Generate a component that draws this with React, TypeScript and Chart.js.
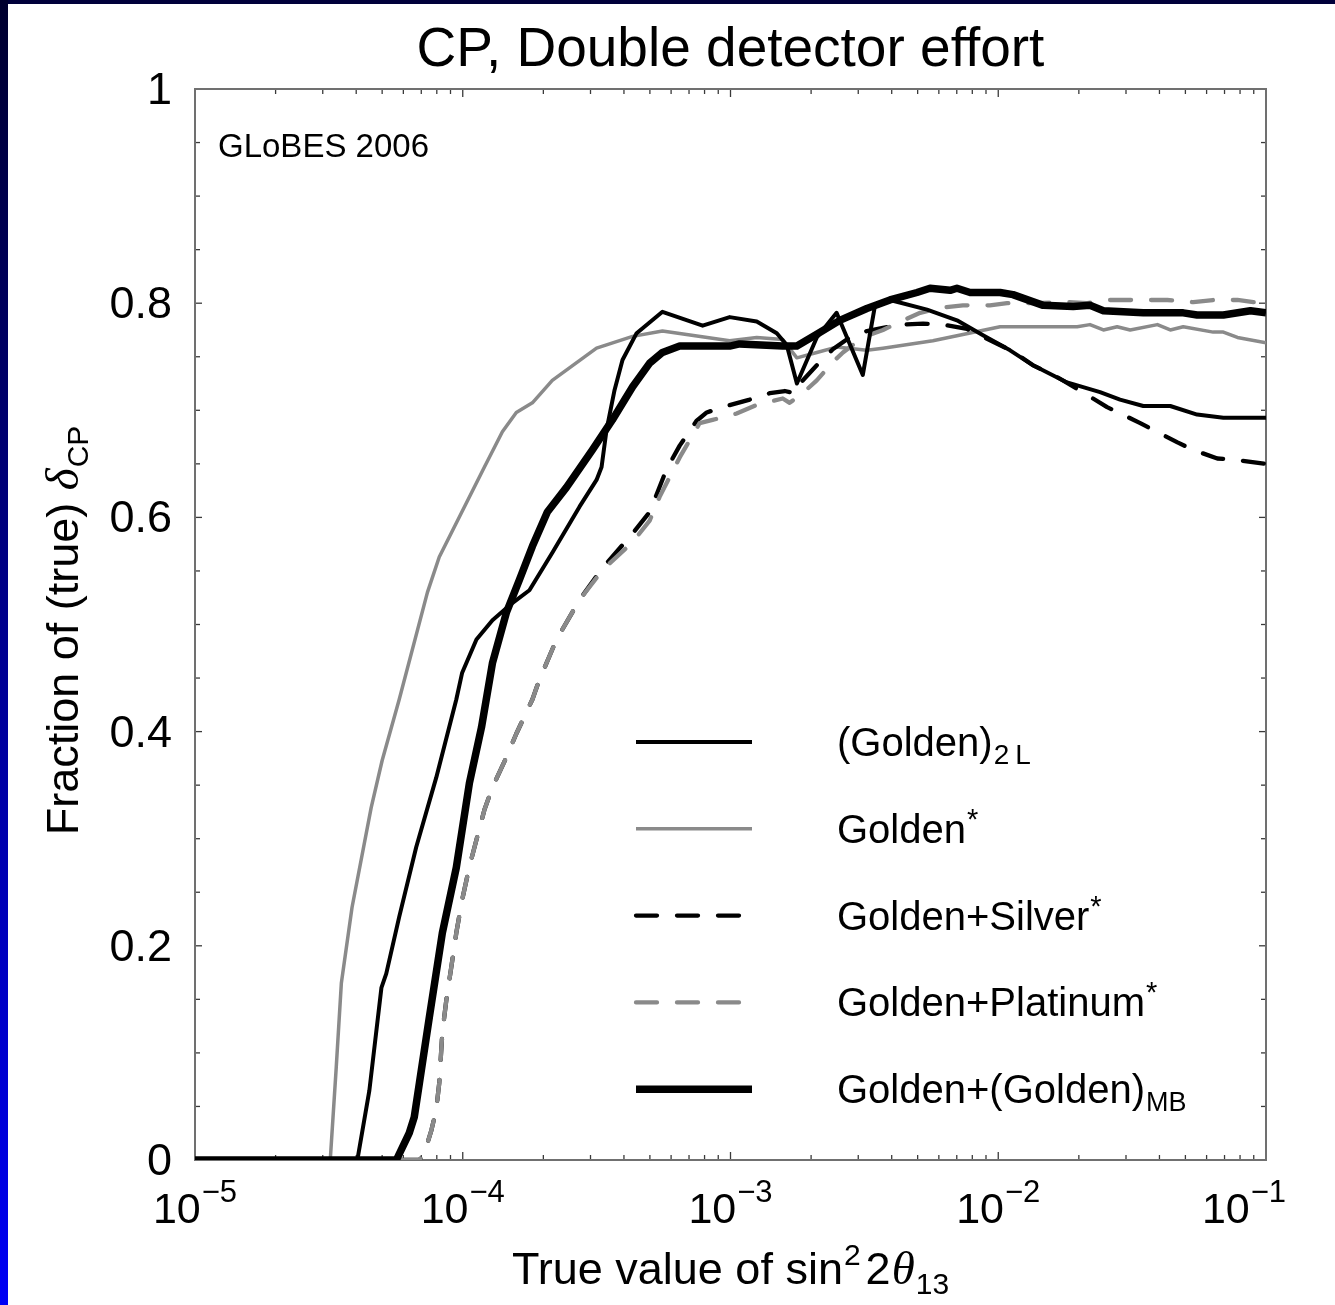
import React, { useEffect, useRef } from 'react';
import { Chart, registerables } from 'chart.js';

Chart.register(...registerables);

// [sin^2 2theta13, fraction of delta_CP] pairs for each setup
const golden2L: [number, number][] = [
  [1e-5, 0], [4.04e-5, 0], [4.48e-5, 0.065], [4.97e-5, 0.161], [5.18e-5, 0.174], [5.79e-5, 0.227],
  [6.7e-5, 0.292], [7.96e-5, 0.357], [9.46e-5, 0.43], [9.95e-5, 0.455], [1.125e-4, 0.486],
  [1.291e-4, 0.504], [1.531e-4, 0.52], [1.774e-4, 0.532], [2.16e-4, 0.567], [2.73e-4, 0.61],
  [3.16e-4, 0.635], [3.3e-4, 0.647], [3.44e-4, 0.681], [3.69e-4, 0.719], [3.95e-4, 0.747],
  [4.46e-4, 0.772], [5.57e-4, 0.792], [7.87e-4, 0.779], [9.93e-4, 0.787], [1.253e-3, 0.783],
  [1.489e-3, 0.772], [1.622e-3, 0.761], [1.77e-3, 0.725], [2.1e-3, 0.768], [2.49e-3, 0.791],
  [3.12e-3, 0.733], [3.46e-3, 0.797], [3.94e-3, 0.803], [5.42e-3, 0.794], [7.01e-3, 0.784],
  [8.77e-3, 0.77], [1.107e-2, 0.756], [1.349e-2, 0.742], [1.807e-2, 0.726], [2.4e-2, 0.717],
  [2.85e-2, 0.71], [3.48e-2, 0.704], [4.39e-2, 0.704], [5.53e-2, 0.696], [6.93e-2, 0.693], [0.1, 0.693],
];

const goldenStar: [number, number][] = [
  [1e-5, 0], [3.2e-5, 0], [3.37e-5, 0.087], [3.52e-5, 0.165], [3.86e-5, 0.236], [4.55e-5, 0.329],
  [5.0e-5, 0.373], [5.79e-5, 0.43], [7.38e-5, 0.53], [8.17e-5, 0.563], [1.205e-4, 0.647],
  [1.406e-4, 0.68], [1.585e-4, 0.698], [1.82e-4, 0.707], [2.16e-4, 0.728], [3.16e-4, 0.758],
  [4.31e-4, 0.769], [5.57e-4, 0.774], [9.93e-4, 0.765], [1.253e-3, 0.768], [1.567e-3, 0.766],
  [1.77e-3, 0.749], [2.1e-3, 0.754], [2.49e-3, 0.759], [3.23e-3, 0.756], [3.71e-3, 0.758],
  [5.7e-3, 0.765], [1.016e-2, 0.778], [1.972e-2, 0.778], [2.2e-2, 0.78], [2.47e-2, 0.775],
  [2.78e-2, 0.778], [3.11e-2, 0.775], [3.93e-2, 0.78], [4.39e-2, 0.775], [4.91e-2, 0.778],
  [6.35e-2, 0.773], [6.93e-2, 0.773], [7.82e-2, 0.768], [0.1, 0.763],
];

const goldenSilver: [number, number][] = [
  [1e-5, 0], [6.89e-5, 0], [7.18e-5, 0.006], [7.64e-5, 0.028], [7.96e-5, 0.047], [8.17e-5, 0.072],
  [8.39e-5, 0.119], [8.69e-5, 0.15], [9.06e-5, 0.18], [9.46e-5, 0.212], [9.95e-5, 0.243],
  [1.059e-4, 0.274], [1.125e-4, 0.299], [1.205e-4, 0.327], [1.291e-4, 0.348], [1.455e-4, 0.376],
  [1.585e-4, 0.398], [1.82e-4, 0.43], [1.93e-4, 0.448], [2.24e-4, 0.486], [2.73e-4, 0.523],
  [3.33e-4, 0.553], [4.31e-4, 0.585], [4.99e-4, 0.605], [5.77e-4, 0.645], [6.46e-4, 0.667],
  [7.46e-4, 0.69], [8.15e-4, 0.698], [9.35e-4, 0.703], [1.18e-3, 0.71], [1.403e-3, 0.716],
  [1.596e-3, 0.718], [1.738e-3, 0.716], [1.816e-3, 0.725], [2.1e-3, 0.742], [2.41e-3, 0.757],
  [2.79e-3, 0.768], [3.23e-3, 0.774], [3.71e-3, 0.777], [4.41e-3, 0.78], [5.24e-3, 0.781],
  [6.22e-3, 0.78], [7.64e-3, 0.776], [9.57e-3, 0.764], [1.135e-2, 0.755], [1.349e-2, 0.742],
  [1.66e-2, 0.731], [1.972e-2, 0.72], [2.55e-2, 0.703], [3.39e-2, 0.688], [4.67e-2, 0.67],
  [5.35e-2, 0.663], [6.58e-2, 0.655], [7.55e-2, 0.654], [0.1, 0.65],
];

const goldenPlatinum: [number, number][] = [
  [1e-5, 0], [6.89e-5, 0], [7.18e-5, 0.006], [7.64e-5, 0.028], [7.96e-5, 0.047], [8.17e-5, 0.072],
  [8.39e-5, 0.119], [8.69e-5, 0.15], [9.06e-5, 0.18], [9.46e-5, 0.212], [9.95e-5, 0.243],
  [1.059e-4, 0.274], [1.125e-4, 0.299], [1.205e-4, 0.327], [1.291e-4, 0.348], [1.455e-4, 0.376],
  [1.585e-4, 0.398], [1.82e-4, 0.43], [1.93e-4, 0.448], [2.24e-4, 0.486], [2.73e-4, 0.523],
  [3.33e-4, 0.551], [4.31e-4, 0.577], [4.99e-4, 0.597], [5.43e-4, 0.619], [6.46e-4, 0.656],
  [7.67e-4, 0.688], [8.57e-4, 0.691], [1.054e-3, 0.697], [1.253e-3, 0.705], [1.567e-3, 0.711],
  [1.663e-3, 0.707], [1.862e-3, 0.716], [2.1e-3, 0.728], [2.41e-3, 0.745], [2.63e-3, 0.754],
  [3.12e-3, 0.768], [3.71e-3, 0.775], [4.41e-3, 0.784], [5.11e-3, 0.791], [6.22e-3, 0.796],
  [7.38e-3, 0.798], [9.31e-3, 0.798], [1.079e-2, 0.8], [1.349e-2, 0.8], [1.807e-2, 0.801],
  [2.15e-2, 0.8], [2.55e-2, 0.803], [3.19e-2, 0.803], [4.28e-2, 0.803], [5.35e-2, 0.801],
  [6.35e-2, 0.803], [7.82e-2, 0.803], [8.97e-2, 0.801], [0.1, 0.802],
];

const goldenMB: [number, number][] = [
  [1e-5, 0], [5.65e-5, 0], [6.31e-5, 0.025], [6.59e-5, 0.04], [6.89e-5, 0.072], [7.5e-5, 0.133],
  [8.39e-5, 0.212], [9.46e-5, 0.273], [1.059e-4, 0.352], [1.175e-4, 0.404], [1.291e-4, 0.464],
  [1.455e-4, 0.511], [1.629e-4, 0.542], [1.82e-4, 0.573], [2.07e-4, 0.605], [2.44e-4, 0.628],
  [3.05e-4, 0.663], [3.62e-4, 0.691], [4.31e-4, 0.722], [4.99e-4, 0.744], [5.57e-4, 0.754],
  [6.46e-4, 0.76], [9.93e-4, 0.76], [1.081e-3, 0.762], [1.567e-3, 0.76], [1.77e-3, 0.76],
  [2.1e-3, 0.771], [2.56e-3, 0.784], [3.23e-3, 0.795], [3.94e-3, 0.803], [4.97e-3, 0.81],
  [5.56e-3, 0.814], [6.61e-3, 0.812], [7.01e-3, 0.814], [7.85e-3, 0.81], [1.016e-2, 0.81],
  [1.135e-2, 0.808], [1.472e-2, 0.798], [1.905e-2, 0.797], [2.2e-2, 0.798], [2.47e-2, 0.793],
  [3.48e-2, 0.791], [4.91e-2, 0.791], [5.53e-2, 0.789], [6.93e-2, 0.789], [8.75e-2, 0.793], [0.1, 0.791],
];

// axis ticks and labels
const xDecades = [1e-5, 1e-4, 1e-3, 1e-2, 1e-1];
const xDecadeExponents = ['\u22125', '\u22124', '\u22123', '\u22122', '\u22121'];
const xMinorMultipliers = [2, 3, 4, 5, 6, 7, 8, 9];
const yMajorTicks = [0, 0.2, 0.4, 0.6, 0.8, 1];
const yMajorLabels = ['0', '0.2', '0.4', '0.6', '0.8', '1'];
const yMinorStep = 0.05;

const SANS = '"Liberation Sans", Arial, Helvetica, sans-serif';
const SERIF = '"Liberation Serif", "Times New Roman", serif';
const GRAY = '#8a8a8a';

interface Seg { t: string; s?: number; dy?: number; it?: boolean; pre?: number }

const legendLabels: Seg[][] = [
  [{ t: '(Golden)' }, { t: '2', s: 28, dy: 8, pre: 1 }, { t: 'L', s: 28, dy: 8, pre: 6 }],
  [{ t: 'Golden' }, { t: '*', s: 29, dy: -14, pre: 1 }],
  [{ t: 'Golden+Silver' }, { t: '*', s: 29, dy: -14, pre: 1 }],
  [{ t: 'Golden+Platinum' }, { t: '*', s: 29, dy: -14, pre: 1 }],
  [{ t: 'Golden+(Golden)' }, { t: 'MB', s: 27, dy: 8, pre: 1 }],
];

function setFont(ctx: CanvasRenderingContext2D, g: Seg, base: number) {
  const size = g.s ?? base;
  ctx.font = g.it ? `italic ${size}px ${SERIF}` : `${size}px ${SANS}`;
}

function drawRich(ctx: CanvasRenderingContext2D, segs: Seg[], x: number, y: number,
  align: 'left' | 'center' | 'right', base: number) {
  let w = 0;
  for (const g of segs) { setFont(ctx, g, base); w += ctx.measureText(g.t).width + (g.pre ?? 0); }
  let cx = align === 'center' ? x - w / 2 : align === 'right' ? x - w : x;
  ctx.textAlign = 'left';
  ctx.textBaseline = 'alphabetic';
  for (const g of segs) {
    setFont(ctx, g, base);
    cx += g.pre ?? 0;
    ctx.fillText(g.t, cx, y + (g.dy ?? 0));
    cx += ctx.measureText(g.t).width;
  }
}

const decorations = {
  id: 'decorations',
  beforeDatasetsDraw(chart: any) {
    const { ctx, chartArea: a, scales } = chart;
    const xs = scales.x, ys = scales.y;
    ctx.save();
    ctx.strokeStyle = '#3a3a3a';
    ctx.lineWidth = 1.3;
    const seg = (x1: number, y1: number, x2: number, y2: number) => {
      ctx.beginPath(); ctx.moveTo(x1, y1); ctx.lineTo(x2, y2); ctx.stroke();
    };
    // x ticks, bottom and top, pointing inward
    xDecades.forEach((d, i) => {
      const px = xs.getPixelForValue(d);
      seg(px, a.bottom, px, a.bottom - 8);
      seg(px, a.top, px, a.top + 8);
      if (i < xDecades.length - 1) {
        for (const m of xMinorMultipliers) {
          const q = xs.getPixelForValue(m * d);
          seg(q, a.bottom, q, a.bottom - 5);
          seg(q, a.top, q, a.top + 5);
        }
      }
    });
    // y ticks, left and right
    for (let k = 0; k <= 20; k++) {
      const v = k * yMinorStep;
      const py = ys.getPixelForValue(v);
      const len = k % 4 === 0 ? 7 : 5;
      seg(a.left, py, a.left + len, py);
      seg(a.right, py, a.right - len, py);
    }
    // frame
    ctx.strokeStyle = '#707070';
    ctx.lineWidth = 2;
    ctx.strokeRect(a.left, a.top, a.right - a.left, a.bottom - a.top);
    ctx.restore();
  },
  afterDraw(chart: any) {
    const { ctx, chartArea: a, scales } = chart;
    const xs = scales.x, ys = scales.y;
    ctx.save();
    ctx.fillStyle = '#000';

    // y tick labels
    yMajorTicks.forEach((v, i) => {
      const py = ys.getPixelForValue(v);
      drawRich(ctx, [{ t: yMajorLabels[i] }], a.left - 23, py + 15, 'right', 45);
    });
    // x tick labels: 10^n (the last one is pulled inward)
    xDecades.forEach((d, i) => {
      const px = xs.getPixelForValue(d) - (i === xDecades.length - 1 ? 22 : 0);
      drawRich(ctx, [{ t: '10' }, { t: xDecadeExponents[i], s: 31, dy: -21, pre: 1 }],
        px, a.bottom + 63, 'center', 43);
    });

    // title
    drawRich(ctx, [{ t: 'CP, Double detector effort' }], (a.left + a.right) / 2, 66, 'center', 55);

    // x axis title
    drawRich(ctx, [
      { t: 'True value of sin' },
      { t: '2', s: 30, dy: -19, pre: 1 },
      { t: '2', pre: 5 },
      { t: '\u03b8', it: true, s: 47, pre: 1 },
      { t: '13', s: 30, dy: 10, pre: 1 },
    ], (a.left + a.right) / 2, a.bottom + 124, 'center', 45);

    // y axis title (rotated)
    ctx.save();
    ctx.translate(78, (a.top + a.bottom) / 2 + 6);
    ctx.rotate(-Math.PI / 2);
    drawRich(ctx, [
      { t: 'Fraction of (true) ' },
      { t: '\u03b4', it: true, s: 47 },
      { t: 'CP', s: 30, dy: 10, pre: 1 },
    ], 0, 0, 'center', 45);
    ctx.restore();

    // credit
    drawRich(ctx, [{ t: 'GLoBES 2006' }], a.left + 23, a.top + 68, 'left', 33);

    // legend
    const lx1 = 636, lx2 = 752, tx = 837, y0 = 742, dyRow = 86.8;
    chart.data.datasets.forEach((ds: any, i: number) => {
      const yy = y0 + i * dyRow;
      ctx.save();
      ctx.strokeStyle = ds.borderColor;
      ctx.lineWidth = ds.borderWidth;
      ctx.lineCap = ds.borderCapStyle || 'butt';
      ctx.setLineDash(ds.borderDash || []);
      ctx.beginPath(); ctx.moveTo(lx1, yy); ctx.lineTo(lx2, yy); ctx.stroke();
      ctx.restore();
      drawRich(ctx, legendLabels[i], tx, yy + 14, 'left', 40);
    });
    ctx.restore();
  },
};

const toPoints = (arr: [number, number][]) => arr.map(([x, y]) => ({ x, y }));

export default function App() {
  const ref = useRef<HTMLCanvasElement | null>(null);

  useEffect(() => {
    document.body.style.margin = '0';
    const canvas = ref.current;
    if (!canvas) return;
    const common = { pointRadius: 0, tension: 0, borderJoinStyle: 'round', fill: false };
    const chart = new Chart(canvas, {
      type: 'line',
      data: {
        datasets: [
          { ...common, label: '(Golden)2L', data: toPoints(golden2L), borderColor: '#000', borderWidth: 4, borderCapStyle: 'butt', order: 2 },
          { ...common, label: 'Golden*', data: toPoints(goldenStar), borderColor: GRAY, borderWidth: 3.5, borderCapStyle: 'butt', order: 5 },
          { ...common, label: 'Golden+Silver*', data: toPoints(goldenSilver), borderColor: '#000', borderWidth: 4.3, borderDash: [21, 20], borderCapStyle: 'round', order: 4 },
          { ...common, label: 'Golden+Platinum*', data: toPoints(goldenPlatinum), borderColor: GRAY, borderWidth: 4.3, borderDash: [21, 20], borderCapStyle: 'round', order: 3 },
          { ...common, label: 'Golden+(Golden)MB', data: toPoints(goldenMB), borderColor: '#000', borderWidth: 7.5, borderCapStyle: 'butt', order: 1 },
        ] as any,
      },
      options: {
        animation: false,
        responsive: false,
        events: [],
        layout: { padding: { left: 195, right: 69, top: 89, bottom: 145 } },
        scales: {
          x: { type: 'logarithmic', min: 1e-5, max: 0.1, display: false },
          y: { type: 'linear', min: 0, max: 1, display: false },
        },
        plugins: { legend: { display: false }, tooltip: { enabled: false } },
      },
      plugins: [decorations],
    });
    return () => chart.destroy();
  }, []);

  return (
    <div style={{ position: 'relative', width: 1335, height: 1305, background: '#fff', overflow: 'hidden' }}>
      <div style={{ position: 'absolute', left: 0, top: 0, width: 1335, height: 4, background: '#00003a' }} />
      <div style={{ position: 'absolute', left: 0, top: 0, width: 8, height: 1305, background: 'linear-gradient(to bottom, #00002e, #0000f5)' }} />
      <canvas ref={ref} width={1335} height={1305} style={{ position: 'absolute', left: 0, top: 0, display: 'block' }} />
    </div>
  );
}
